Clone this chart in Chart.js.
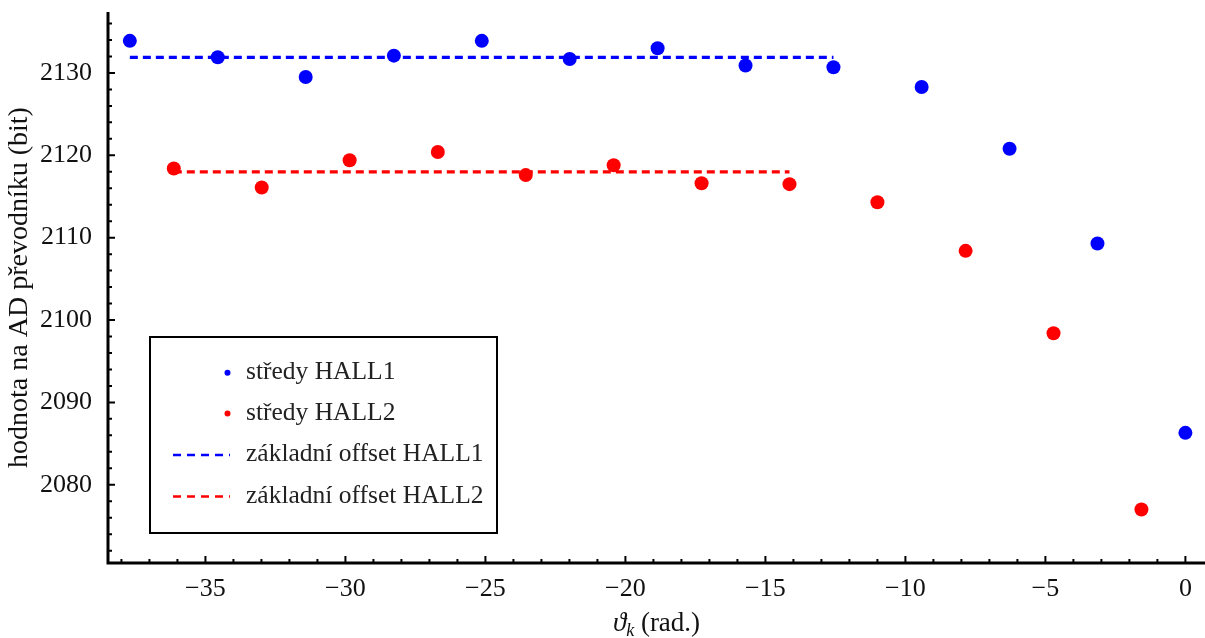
<!DOCTYPE html>
<html>
<head>
<meta charset="utf-8">
<script src="https://cdn.jsdelivr.net/npm/chart.js@4"></script>
<style>
  html, body { margin: 0; padding: 0; background: #fff; }
  #graf { display: block; }
</style>
</head>
<body>
<canvas id="graf" width="1205" height="638"></canvas>
<script>
// úhly (rad.) a středy pro oba senzory
const uhlyHall1 = [-37.70, -34.56, -31.42, -28.27, -25.13, -21.99, -18.85, -15.71, -12.57, -9.42, -6.28, -3.14, 0];
const stredyHall1 = [2133.9, 2131.9, 2129.5, 2132.1, 2133.9, 2131.7, 2133.0, 2130.9, 2130.7, 2128.3, 2120.8, 2109.3, 2086.3];
const uhlyHall2 = [-36.13, -32.99, -29.85, -26.70, -23.56, -20.42, -17.28, -14.14, -11.00, -7.85, -4.71, -1.57];
const stredyHall2 = [2118.4, 2116.1, 2119.4, 2120.4, 2117.6, 2118.8, 2116.6, 2116.5, 2114.3, 2108.4, 2098.4, 2077.0];

// základní offset (vodorovné čáry)
const offsetHall1X = [-37.70, -12.57];
const offsetHall1Y = [2131.9, 2131.9];
const offsetHall2X = [-36.13, -14.14];
const offsetHall2Y = [2118.0, 2118.0];

// popisky os
const xTicks = [-35, -30, -25, -20, -15, -10, -5, 0];
const yTicks = [2080, 2090, 2100, 2110, 2120, 2130];

const modra = 'rgb(0,0,255)';
const cervena = 'rgb(255,0,0)';
const pismo = { family: '"Liberation Serif", serif', size: 26 };

function body(xs, ys) {
    return xs.map((x, i) => ({ x: x, y: ys[i] }));
}

// rám (jen levá a spodní osa) a ticky dovnitř
const ramecek = {
    id: 'ramecek',
    afterDraw(chart) {
        const { ctx, chartArea: a, scales: { x, y } } = chart;
        ctx.save();
        ctx.strokeStyle = '#000';
        ctx.lineWidth = 2;
        ctx.beginPath();
        for (let v = Math.ceil(x.min); v <= x.max; v++) {
            const px = x.getPixelForValue(v);
            const d = v % 5 === 0 ? 7 : 4;
            ctx.moveTo(px, a.bottom);
            ctx.lineTo(px, a.bottom - d);
        }
        for (let v = Math.ceil(y.min / 2) * 2; v <= y.max; v += 2) {
            const py = y.getPixelForValue(v);
            const d = v % 10 === 0 ? 7 : 4;
            ctx.moveTo(a.left, py);
            ctx.lineTo(a.left + d, py);
        }
        ctx.stroke();
        ctx.lineWidth = 3;
        ctx.beginPath();
        ctx.moveTo(a.left, a.top);
        ctx.lineTo(a.left, a.bottom);
        ctx.lineTo(chart.width, a.bottom);
        ctx.stroke();

        // popisek osy x: ϑ_k (rad.)
        const stred = (a.left + a.right) / 2;
        const zaklad = 631;
        ctx.fillStyle = '#111';
        ctx.textBaseline = 'alphabetic';
        ctx.textAlign = 'left';
        ctx.font = 'italic 27px "Liberation Serif", serif';
        const w1 = ctx.measureText('ϑ').width;
        ctx.font = 'italic 18px "Liberation Serif", serif';
        const w2 = ctx.measureText('k').width;
        ctx.font = '27px "Liberation Serif", serif';
        const w3 = ctx.measureText(' (rad.)').width;
        let px = stred - (w1 + w2 + w3) / 2;
        ctx.font = 'italic 27px "Liberation Serif", serif';
        ctx.fillText('ϑ', px, zaklad);
        px += w1;
        ctx.font = 'italic 18px "Liberation Serif", serif';
        ctx.fillText('k', px, zaklad + 5);
        px += w2;
        ctx.font = '27px "Liberation Serif", serif';
        ctx.fillText(' (rad.)', px, zaklad);
        ctx.restore();
    }
};

// legenda uvnitř grafu
const legenda = {
    id: 'legenda',
    afterDraw(chart) {
        const ctx = chart.ctx;
        const box = { x: 150, y: 337, w: 347, h: 196 };
        ctx.save();
        ctx.fillStyle = '#fff';
        ctx.fillRect(box.x, box.y, box.w, box.h);
        ctx.strokeStyle = '#000';
        ctx.lineWidth = 2;
        ctx.strokeRect(box.x, box.y, box.w, box.h);
        ctx.font = '25.5px "Liberation Serif", serif';
        ctx.textBaseline = 'alphabetic';
        ctx.textAlign = 'left';
        const radky = [372.7, 413.5, 455, 496.5];
        chart.data.datasets.forEach((ds, i) => {
            const ry = radky[i];
            if (ds.showLine) {
                ctx.strokeStyle = ds.borderColor;
                ctx.lineWidth = 2.7;
                ctx.setLineDash([8, 6]);
                ctx.beginPath();
                ctx.moveTo(173, ry);
                ctx.lineTo(230, ry);
                ctx.stroke();
                ctx.setLineDash([]);
            } else {
                ctx.fillStyle = ds.backgroundColor;
                ctx.beginPath();
                ctx.arc(227.5, ry, 3, 0, Math.PI * 2);
                ctx.fill();
            }
            ctx.fillStyle = '#222';
            ctx.fillText(ds.label, 246, ry + 6);
        });
        ctx.restore();
    }
};

const graf = new Chart(document.getElementById('graf'), {
    type: 'scatter',
    data: {
        datasets: [{
            label: 'středy HALL1',
            data: body(uhlyHall1, stredyHall1),
            backgroundColor: modra,
            borderWidth: 0,
            pointRadius: 7,
            pointHoverRadius: 7
        }, {
            label: 'středy HALL2',
            data: body(uhlyHall2, stredyHall2),
            backgroundColor: cervena,
            borderWidth: 0,
            pointRadius: 7,
            pointHoverRadius: 7
        }, {
            label: 'základní offset HALL1',
            data: body(offsetHall1X, offsetHall1Y),
            showLine: true,
            borderColor: modra,
            borderWidth: 3.3,
            borderDash: [8, 5],
            pointRadius: 0
        }, {
            label: 'základní offset HALL2',
            data: body(offsetHall2X, offsetHall2Y),
            showLine: true,
            borderColor: cervena,
            borderWidth: 3.3,
            borderDash: [8, 5],
            pointRadius: 0
        }]
    },
    options: {
        responsive: false,
        animation: false,
        devicePixelRatio: 1,
        layout: { autoPadding: false, padding: { top: 12, right: 0, bottom: 0, left: 0 } },
        plugins: {
            legend: { display: false },
            tooltip: { enabled: false }
        },
        scales: {
            x: {
                type: 'linear',
                min: -38.48,
                max: 0.70,
                grid: { display: false },
                border: { display: false },
                afterBuildTicks: s => { s.ticks = xTicks.map(v => ({ value: v })); },
                afterFit: s => { s.height = 75; s.paddingLeft = 0; s.paddingRight = 0; },
                ticks: {
                    font: pismo,
                    color: '#111',
                    padding: 3,
                    maxRotation: 0,
                    autoSkip: false,
                    callback: v => String(v).replace('-', '\u2212')
                }
            },
            y: {
                type: 'linear',
                min: 2070.5,
                max: 2137.4,
                grid: { display: false },
                border: { display: false },
                afterBuildTicks: s => { s.ticks = yTicks.map(v => ({ value: v })); },
                afterFit: s => { s.width = 108; s.paddingTop = 0; s.paddingBottom = 0; },
                ticks: {
                    font: pismo,
                    color: '#111',
                    padding: 8,
                    autoSkip: false,
                    callback: v => String(v)
                },
                title: {
                    display: true,
                    text: 'hodnota na AD převodníku (bit)',
                    font: { family: '"Liberation Serif", serif', size: 28 },
                    color: '#111',
                    padding: { top: 3, bottom: 0 }
                }
            }
        }
    },
    plugins: [ramecek, legenda]
});
</script>
</body>
</html>
